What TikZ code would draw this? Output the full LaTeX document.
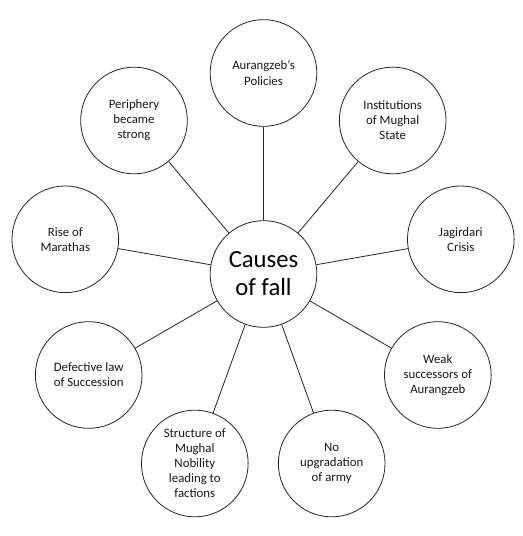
\documentclass[tikz,border=0pt]{standalone}
\usepackage{fontspec}
\setmainfont{Carlito}
\begin{document}
\begin{tikzpicture}[x=0.75pt,y=-0.75pt,
  cause/.style={circle,draw=black!85,line width=0.6pt,minimum size=80pt,inner sep=0pt,align=center,font=\fontsize{9.6}{11.3}\selectfont,text=black!90},
  hub/.style={circle,draw=black!85,line width=0.6pt,minimum size=80pt,inner sep=0pt,align=center,font=\fontsize{18.5}{21}\selectfont},
  link/.style={draw=black!85,line width=0.6pt}]
\useasboundingbox[fill=white] (0,0) rectangle (523,536);
\node[hub] (c) at (263.5,274) {Causes\\of fall};
\node[cause] (a) at (263.5,73) {Aurangzeb’s\\Policies};
\node[cause] (p) at (134,120.5) {Periphery\\became\\strong};
\node[cause] (i) at (392.7,120.5) {Institutions\\of Mughal\\State};
\node[cause] (r) at (65.3,239.3) {Rise of\\Marathas};
\node[cause] (j) at (460.8,239.3) {Jagirdari\\Crisis};
\node[cause] (d) at (88.7,375) {Defective law\\of Succession};
\node[cause] (w) at (437.8,375) {Weak\\successors of\\Aurangzeb};
\node[cause] (s) at (194.8,463.5) {Structure of\\Mughal\\Nobility\\leading to\\factions};
\node[cause] (n) at (331.7,463.5) {No\\upgradation\\of army};
\foreach \t in {a,p,i,r,j,d,w,s,n} \draw[link] (c) -- (\t);
\end{tikzpicture}
\end{document}
